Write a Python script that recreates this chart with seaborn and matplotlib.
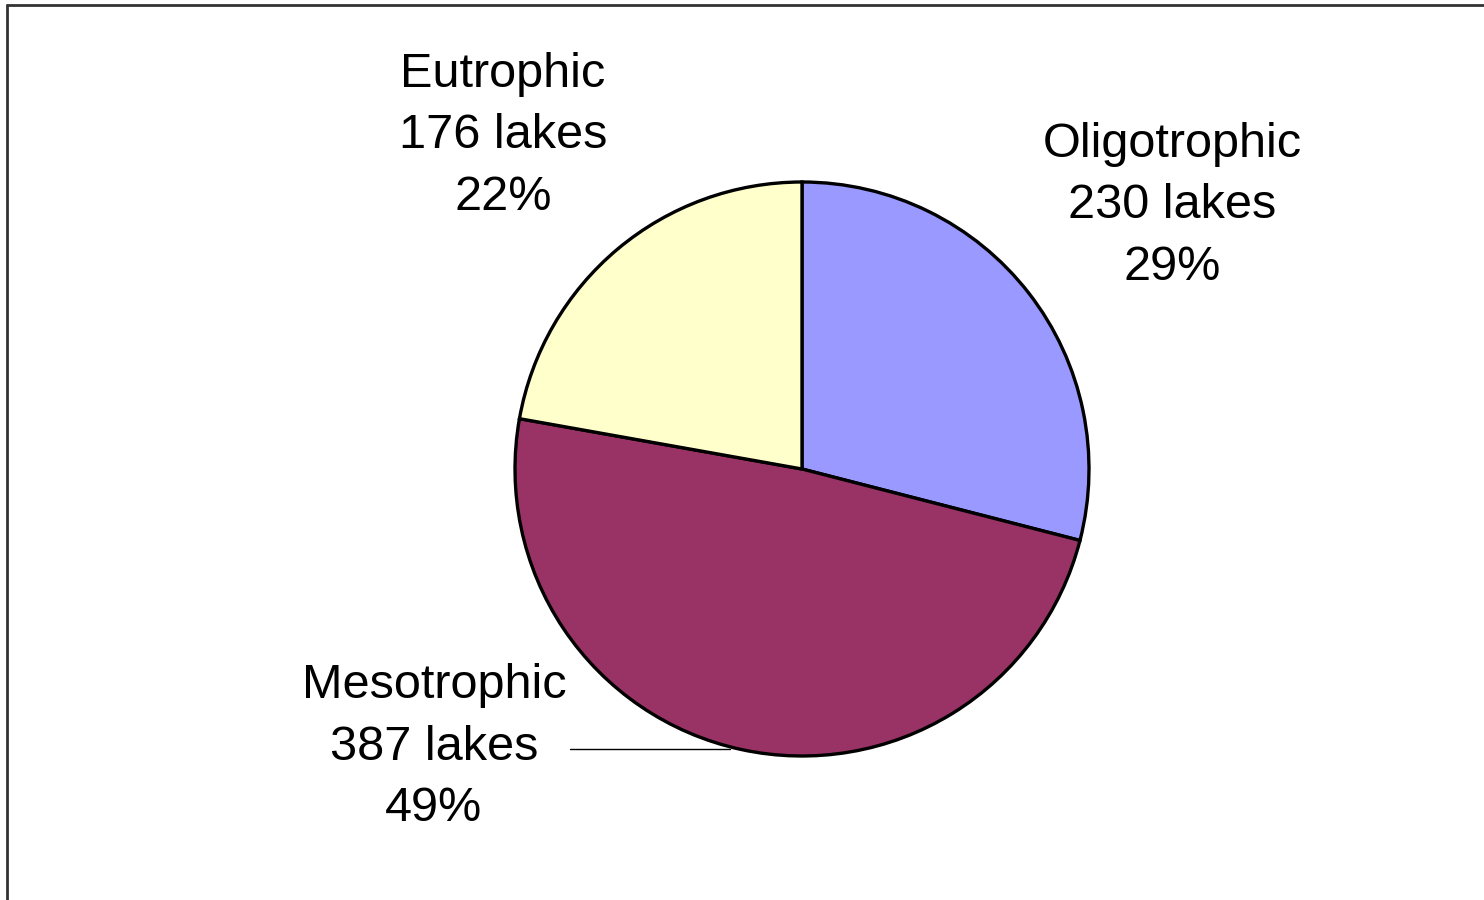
import matplotlib
matplotlib.use("Agg")
import matplotlib.pyplot as plt
from matplotlib.lines import Line2D
import seaborn as sns

# Lake counts by trophic state
categories = ["Oligotrophic", "Mesotrophic", "Eutrophic"]
lake_counts = [230, 387, 176]
percent_labels = ["29%", "49%", "22%"]
colors = ["#9999FF", "#993366", "#FFFFCC"]

sns.set_theme(style="white")
plt.rcParams["font.family"] = ["Liberation Sans", "DejaVu Sans"]

W, H = 1484, 900
fig = plt.figure(figsize=(W / 100, H / 100), dpi=100)
ax = fig.add_axes([0, 0, 1, 1])

cx, cy, r = 802, H - 469, 287
ax.pie(lake_counts, colors=colors, startangle=90, counterclock=False,
       center=(cx, cy), radius=r, frame=True,
       wedgeprops=dict(edgecolor="black", linewidth=2.4))
ax.set_xlim(0, W)
ax.set_ylim(0, H)
ax.set_aspect("equal")
ax.axis("off")

# Label positions (block centres)
label_pos = {"Oligotrophic": (1172, H - 206),
             "Mesotrophic": (434, H - 747),
             "Eutrophic": (503, H - 136)}
for cat, n, pct in zip(categories, lake_counts, percent_labels):
    x, y = label_pos[cat]
    ax.text(x, y, f"{cat}\n{n} lakes\n{pct}", ha="center", va="center",
            fontsize=35, linespacing=1.47, color="black")

# Leader line for the Mesotrophic label
ax.plot([570, 730], [H - 749, H - 749], color="black", linewidth=1.0)

# Outer frame (left and top edges)
fig.add_artist(Line2D([7 / W, 7 / W], [0, 1 - 5 / H], transform=fig.transFigure,
                      color="#333333", linewidth=2.0))
fig.add_artist(Line2D([7 / W, 1], [1 - 5 / H, 1 - 5 / H], transform=fig.transFigure,
                      color="#333333", linewidth=2.0))

fig.savefig("out.png", dpi=100, facecolor="white")
